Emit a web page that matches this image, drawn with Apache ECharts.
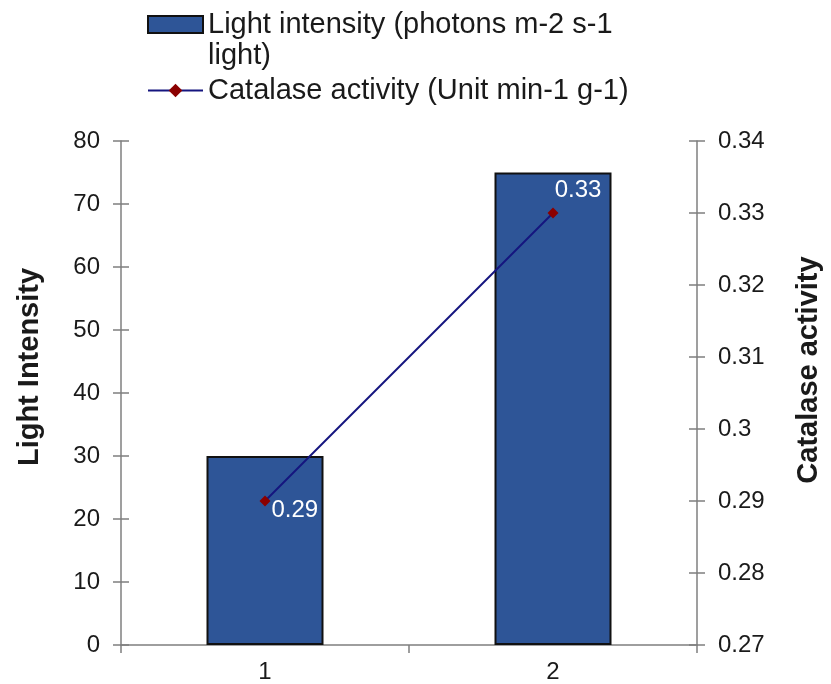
<!DOCTYPE html>
<html>
<head>
<meta charset="utf-8">
<script src="https://cdn.jsdelivr.net/npm/echarts@6/dist/echarts.min.js"></script>
<style>
html,body{margin:0;padding:0;background:#fff;}
#chart{width:831px;height:684px;}
</style>
</head>
<body>
<div id="chart"></div>
<script>
// ---- data ----
var categories = ['1', '2'];
var lightIntensity = [30, 75];
var catalaseActivity = [0.29, 0.33];
var barName = 'Light intensity (photons m-2 s-1 light)';
var lineName = 'Catalase activity (Unit min-1 g-1)';
var leftAxisTitle = 'Light Intensity';
var rightAxisTitle = 'Catalase activity';

// ---- styles ----
var FONT = 'Liberation Sans, Arial, sans-serif';
var AXIS_COLOR = '#7f7f7f';
var TEXT_COLOR = '#1a1a1a';
var labelPlacement = [
  { position: 'right', offset: [-4, 9] },
  { position: 'top', offset: [25, 0] }
];

var chart = echarts.init(document.getElementById('chart'), null, { renderer: 'canvas' });

var baseY = {
  type: 'value',
  axisLine: { show: true, lineStyle: { color: AXIS_COLOR, width: 1.5 } },
  axisTick: { show: true, length: 8, lineStyle: { color: AXIS_COLOR, width: 1.5 } },
  splitLine: { show: false },
  axisLabel: { color: TEXT_COLOR, fontSize: 24, fontFamily: FONT, margin: 21 }
};

var option = {
  backgroundColor: '#ffffff',
  animation: false,
  legend: {
    orient: 'vertical',
    left: 147,
    top: -22,
    padding: 0,
    itemGap: 4,
    itemWidth: 55,
    itemHeight: 17,
    textStyle: { fontSize: 29, fontFamily: FONT, color: TEXT_COLOR, lineHeight: 31 },
    formatter: function (name) {
      if (name === barName) return '\nLight intensity (photons m-2 s-1\nlight)';
      return name;
    },
    data: [{ name: barName, icon: 'rect' }, { name: lineName }]
  },
  grid: { left: 121, right: 132, top: 141, bottom: 39, containLabel: false },
  xAxis: [{
    type: 'category',
    data: categories,
    boundaryGap: true,
    axisLine: { show: true, lineStyle: { color: AXIS_COLOR, width: 1.5 } },
    axisTick: { show: true, length: 8, lineStyle: { color: AXIS_COLOR, width: 1.5 } },
    axisLabel: { color: TEXT_COLOR, fontSize: 24, fontFamily: FONT, margin: 15 }
  }],
  yAxis: [
    Object.assign({}, baseY, {
      position: 'left', min: 0, max: 80, interval: 10,
      name: leftAxisTitle, nameLocation: 'middle', nameRotate: 90, nameGap: 77,
      nameTextStyle: { fontSize: 29, fontWeight: 'bold', fontFamily: FONT, color: TEXT_COLOR, padding: [0, 0, 0, 52] }
    }),
    Object.assign({}, baseY, {
      position: 'right', min: 0.27, max: 0.34, interval: 0.01,
      name: rightAxisTitle, nameLocation: 'middle', nameRotate: 90, nameGap: 97,
      nameTextStyle: { fontSize: 29, fontWeight: 'bold', fontFamily: FONT, color: TEXT_COLOR, padding: [0, 0, 0, 46] }
    }),
    {
      type: 'value', position: 'left', min: 0, max: 80, interval: 10,
      axisLine: { show: false }, splitLine: { show: false }, axisLabel: { show: false },
      axisTick: { show: true, inside: true, length: 8, lineStyle: { color: AXIS_COLOR, width: 1.5 } }
    },
    {
      type: 'value', position: 'right', min: 0.27, max: 0.34, interval: 0.01,
      axisLine: { show: false }, splitLine: { show: false }, axisLabel: { show: false },
      axisTick: { show: true, inside: true, length: 8, lineStyle: { color: AXIS_COLOR, width: 1.5 } }
    }
  ],
  series: [
    {
      name: barName,
      type: 'bar',
      yAxisIndex: 0,
      barWidth: 117,
      data: lightIntensity,
      itemStyle: { color: '#2E5597', borderColor: '#111111', borderWidth: 2 }
    },
    {
      name: lineName,
      type: 'line',
      yAxisIndex: 1,
      symbol: 'diamond',
      symbolSize: 11,
      data: catalaseActivity.map(function (v, i) {
        return { value: v, label: labelPlacement[i] };
      }),
      lineStyle: { color: '#15157f', width: 2 },
      itemStyle: { color: '#8B0000' },
      label: {
        show: true, color: '#ffffff', fontSize: 24, fontFamily: FONT,
        formatter: function (p) { return String(p.value); }
      },
      z: 5
    }
  ]
};
chart.setOption(option);
</script>
</body>
</html>
